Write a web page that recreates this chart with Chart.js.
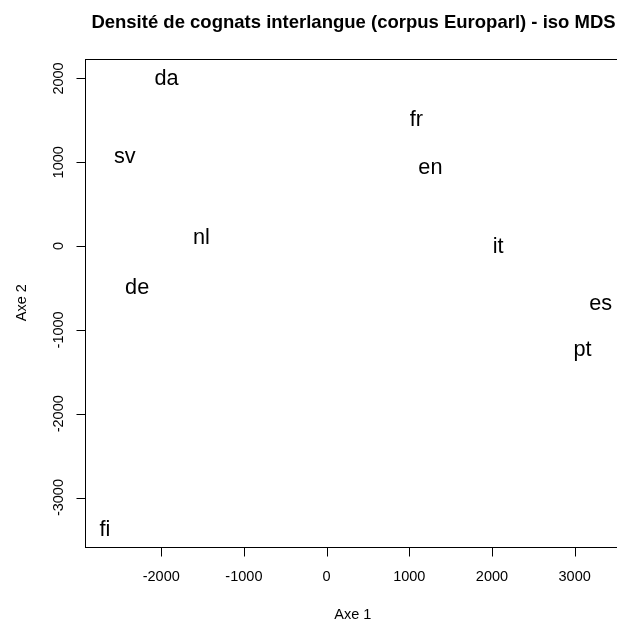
<!DOCTYPE html>
<html>
<head>
<meta charset="utf-8">
<script src="https://cdn.jsdelivr.net/npm/chart.js@4/dist/chart.umd.min.js"></script>
<style>
  html, body { margin: 0; padding: 0; background: #fff; overflow: hidden; }
  #wrap { width: 626px; height: 620px; }
</style>
</head>
<body>
<div id="wrap"><canvas id="mds" width="626" height="620"></canvas></div>
<script>
// langues et coordonnees MDS
var langs = ["da", "sv", "nl", "de", "fi", "fr", "en", "it", "es", "pt"];
var axe1 = [-1936, -2440, -1513, -2291, -2682, 1087, 1256, 2074, 3316, 3096];
var axe2 = [2017, 1090, 123, -482, -3369, 1527, 951, 16, -670, -1219];

var xTicks = [-2000, -1000, 0, 1000, 2000, 3000];
var yTicks = [-3000, -2000, -1000, 0, 1000, 2000];

var titre = "Densité de cognats interlangue (corpus Europarl) - iso MDS";
var FONT = '"Liberation Sans", Arial, Helvetica, sans-serif';

var points = langs.map(function(l, i){ return {x: axe1[i], y: axe2[i], label: l}; });

// dessin facon plot() de R : cadre, graduations, textes
var rPlot = {
  id: 'rPlot',
  afterDatasetsDraw: function(chart){
    var ctx = chart.ctx, a = chart.chartArea;
    var xs = chart.scales.x, ys = chart.scales.y;
    ctx.save();
    ctx.fillStyle = '#000';
    ctx.strokeStyle = '#000';
    ctx.lineWidth = 1;

    // labels des langues
    ctx.font = '21.7px ' + FONT;
    ctx.textAlign = 'center';
    ctx.textBaseline = 'alphabetic';
    var meta = chart.getDatasetMeta(0);
    meta.data.forEach(function(pt, i){
      ctx.fillText(points[i].label, pt.x, pt.y + 7.8);
    });

    // cadre
    var L = Math.round(a.left) + 0.5, T = Math.round(a.top) + 0.5;
    var R = Math.round(a.right) + 0.5, B = Math.round(a.bottom) + 0.5;
    ctx.strokeRect(L, T, R - L, B - T);

    // axe x
    ctx.font = '14.5px ' + FONT;
    ctx.beginPath();
    xTicks.forEach(function(v){
      var px = Math.round(xs.getPixelForValue(v)) + 0.5;
      ctx.moveTo(px, B); ctx.lineTo(px, B + 9);
    });
    // axe y
    yTicks.forEach(function(v){
      var py = Math.round(ys.getPixelForValue(v)) + 0.5;
      ctx.moveTo(L, py); ctx.lineTo(L - 9, py);
    });
    ctx.stroke();

    xTicks.forEach(function(v){
      ctx.fillText(String(v), xs.getPixelForValue(v), a.bottom + 34);
    });
    yTicks.forEach(function(v){
      ctx.save();
      ctx.translate(a.left - 22.5, ys.getPixelForValue(v));
      ctx.rotate(-Math.PI / 2);
      ctx.fillText(String(v), 0, 0);
      ctx.restore();
    });

    // titres d'axes
    var cx = (a.left + a.right) / 2, cy = (a.top + a.bottom) / 2;
    ctx.fillText("Axe 1", cx, a.bottom + 72);
    ctx.save();
    ctx.translate(25.5, cy);
    ctx.rotate(-Math.PI / 2);
    ctx.fillText("Axe 2", 0, 0);
    ctx.restore();

    // titre principal
    ctx.font = 'bold 18.5px ' + FONT;
    ctx.fillText(titre, cx + 0.7, 27.5);
    ctx.restore();
  }
};

new Chart(document.getElementById('mds'), {
  type: 'scatter',
  data: {
    datasets: [{
      data: points,
      pointRadius: 0,
      pointHoverRadius: 0
    }]
  },
  options: {
    responsive: false,
    animation: false,
    events: [],
    layout: { padding: { left: 85, top: 59, right: 5.4, bottom: 73.5 } },
    plugins: { legend: {display: false}, tooltip: {enabled: false}, title: {display: false} },
    scales: {
      x: { type: 'linear', display: false, min: -2922, max: 3556 },
      y: { type: 'linear', display: false, min: -3584, max: 2232 }
    }
  },
  plugins: [rPlot]
});
</script>
</body>
</html>
